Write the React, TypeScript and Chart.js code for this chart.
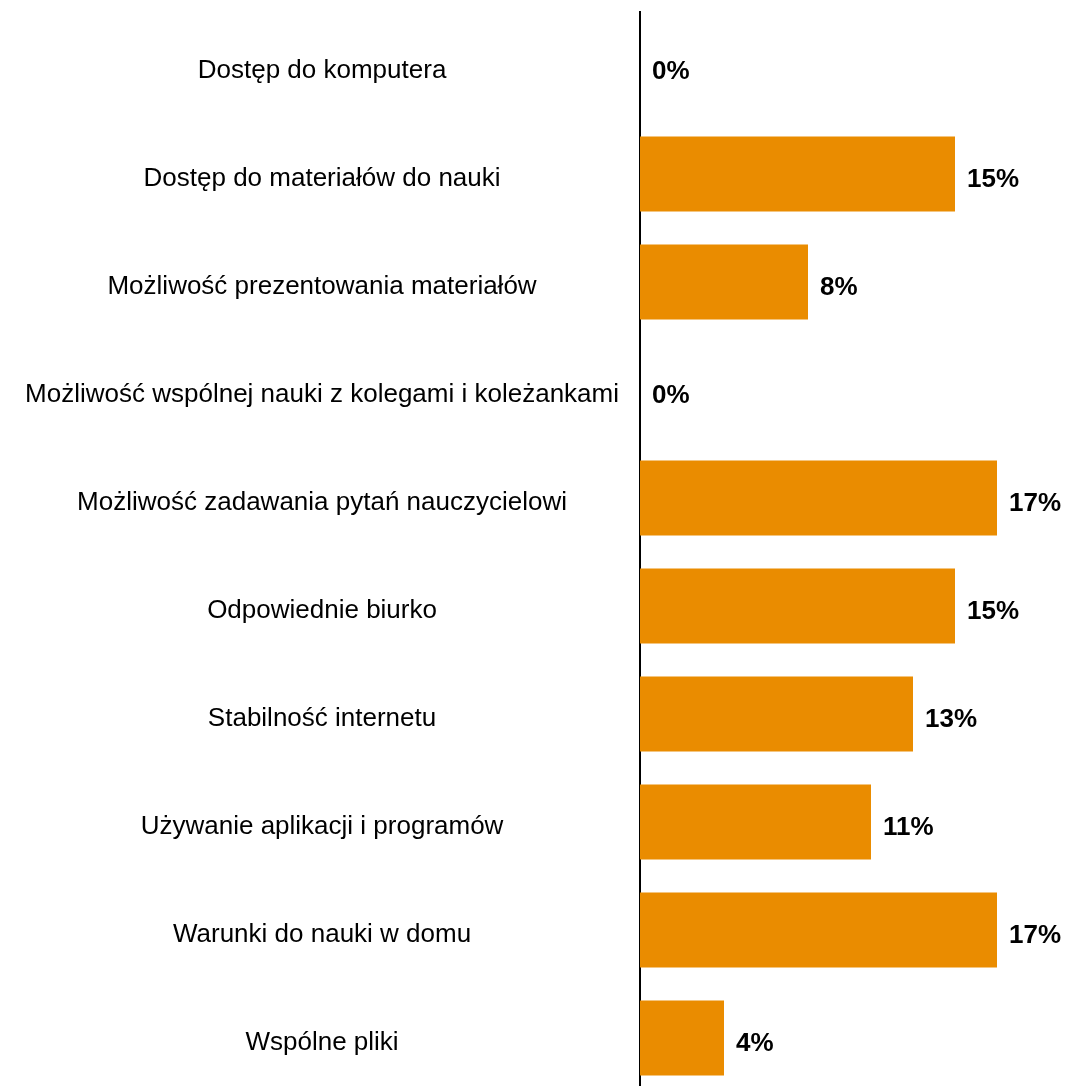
import React, { useEffect, useRef } from "react";
import { Chart, registerables } from "chart.js";

Chart.register(...registerables);

const categories = [
  "Dostęp do komputera",
  "Dostęp do materiałów do nauki",
  "Możliwość prezentowania materiałów",
  "Możliwość wspólnej nauki z kolegami i koleżankami",
  "Możliwość zadawania pytań nauczycielowi",
  "Odpowiednie biurko",
  "Stabilność internetu",
  "Używanie aplikacji i programów",
  "Warunki do nauki w domu",
  "Wspólne pliki",
];

const values = [0, 15, 8, 0, 17, 15, 13, 11, 17, 4];

const FONT = "Arial, Liberation Sans, sans-serif";

const valueLabels = {
  id: "valueLabels",
  afterDatasetsDraw(chart: any) {
    const ctx = chart.ctx;
    const meta = chart.getDatasetMeta(0);
    ctx.save();
    ctx.font = `bold 26px ${FONT}`;
    ctx.fillStyle = "#000000";
    ctx.textAlign = "left";
    ctx.textBaseline = "middle";
    meta.data.forEach((bar: any, i: number) => {
      ctx.fillText(`${values[i]}%`, bar.x + 12, bar.y + 6);
    });
    ctx.restore();
  },
};

export default function App() {
  const ref = useRef<HTMLCanvasElement | null>(null);
  useEffect(() => {
    if (!ref.current) return;
    const chart = new Chart(ref.current, {
      type: "bar",
      data: {
        labels: categories,
        datasets: [
          {
            data: values,
            backgroundColor: "#EA8C00",
            barPercentage: 0.694,
            categoryPercentage: 1,
          },
        ],
      },
      options: {
        indexAxis: "y",
        animation: false,
        responsive: true,
        maintainAspectRatio: false,
        layout: { padding: { top: 12, right: 6, left: 0, bottom: 0 } },
        plugins: { legend: { display: false }, tooltip: { enabled: false } },
        scales: {
          x: {
            min: 0,
            max: 20,
            display: false,
            grid: { display: false },
          },
          y: {
            grid: { display: false, drawTicks: false },
            border: { display: true, color: "#000000", width: 2 },
            afterFit(scale: any) {
              scale.width = 640;
              scale.paddingTop = 0;
              scale.paddingBottom = 0;
            },
            ticks: {
              crossAlign: "center",
              padding: 21,
              labelOffset: 5,
              color: "#000000",
              font: { family: FONT, size: 26 },
            },
          },
        },
      },
      plugins: [valueLabels],
    });
    return () => chart.destroy();
  }, []);
  return (
    <div style={{ position: "fixed", left: 0, top: 0, width: 1066, height: 1092, background: "#fff" }}>
      <canvas ref={ref} />
    </div>
  );
}
